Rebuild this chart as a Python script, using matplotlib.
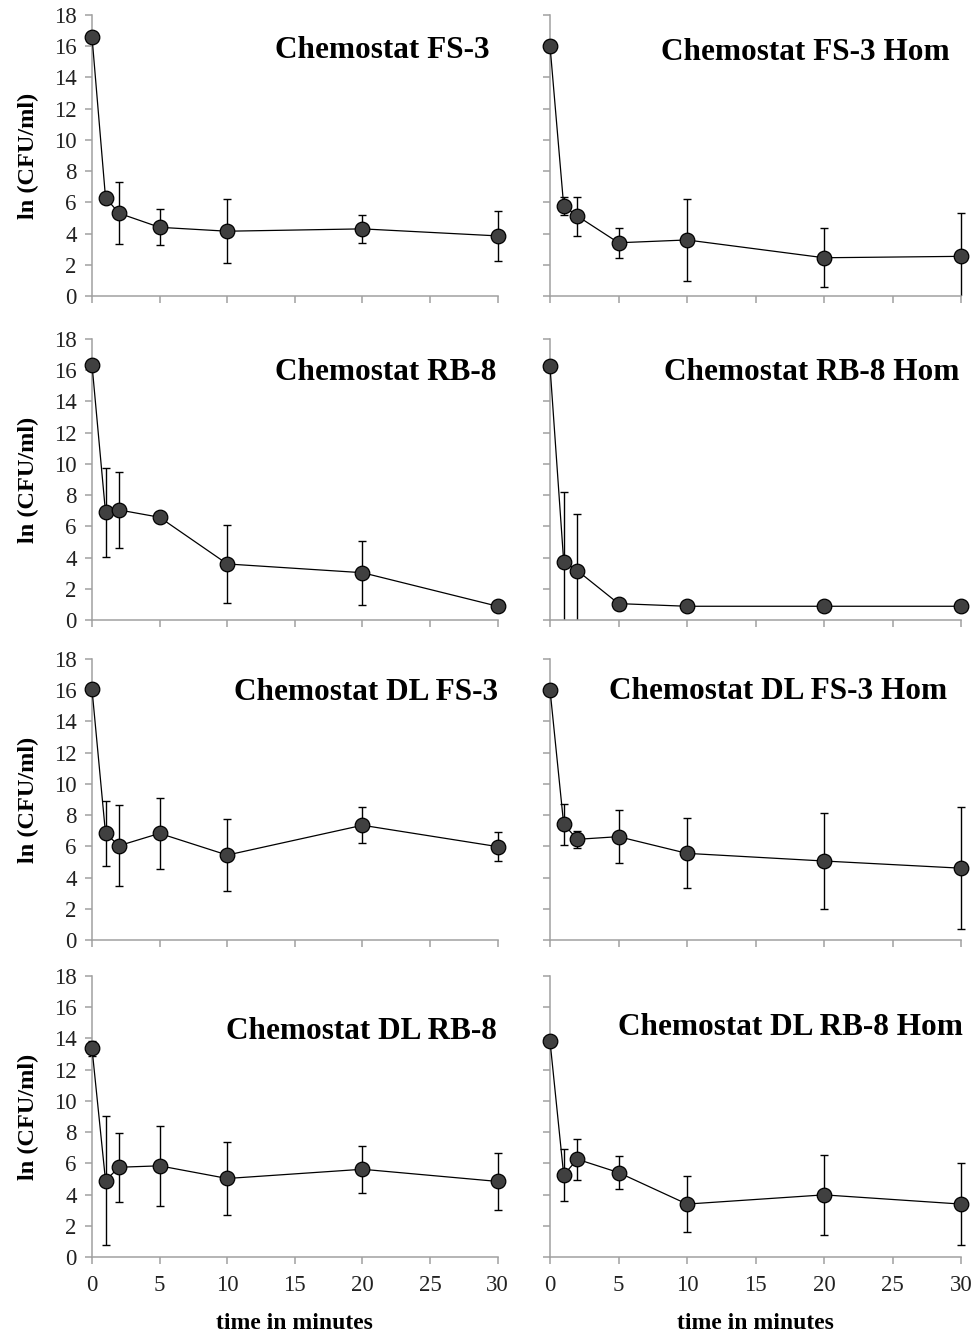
import matplotlib
matplotlib.use("Agg")
import matplotlib.pyplot as plt
from matplotlib.patches import Rectangle
from matplotlib.ticker import MultipleLocator

plt.rcParams["font.family"] = ["Liberation Serif", "DejaVu Serif"]

# sampling times (minutes)
times = [0, 1, 2, 5, 10, 20, 30]

titles = [
    "Chemostat FS-3", "Chemostat FS-3 Hom",
    "Chemostat RB-8", "Chemostat RB-8 Hom",
    "Chemostat DL FS-3", "Chemostat DL FS-3 Hom",
    "Chemostat DL RB-8", "Chemostat DL RB-8 Hom",
]

# ln(CFU/ml) means and standard deviations for each run
fs3_mean = [16.6, 6.3, 5.3, 4.4, 4.15, 4.3, 3.85]
fs3_err = [0.15, 0.15, 2.0, 1.15, 2.05, 0.9, 1.6]
fs3_hom_mean = [16.03, 5.77, 5.12, 3.41, 3.59, 2.45, 2.54]
fs3_hom_err = [0.4, 0.55, 1.25, 0.95, 2.6, 1.9, 2.8]

rb8_mean = [16.35, 6.9, 7.05, 6.58, 3.59, 3.03, 0.88]
rb8_err = [0.25, 2.85, 2.45, 0.15, 2.5, 2.05, 0.1]
rb8_hom_mean = [16.25, 3.74, 3.16, 1.05, 0.88, 0.88, 0.88]
rb8_hom_err = [0.1, 4.45, 3.6, 0.1, 0.05, 0.05, 0.05]

dlfs3_mean = [16.06, 6.83, 6.04, 6.83, 5.44, 7.35, 5.98]
dlfs3_err = [0.15, 2.1, 2.6, 2.25, 2.3, 1.15, 0.95]
dlfs3_hom_mean = [16.04, 7.41, 6.45, 6.62, 5.55, 5.06, 4.6]
dlfs3_hom_err = [0.1, 1.3, 0.55, 1.7, 2.25, 3.1, 3.9]

dlrb8_mean = [13.36, 4.9, 5.75, 5.84, 5.03, 5.62, 4.84]
dlrb8_err = [0.5, 4.15, 2.2, 2.55, 2.35, 1.5, 1.8]
dlrb8_hom_mean = [13.83, 5.26, 6.26, 5.41, 3.39, 3.98, 3.39]
dlrb8_hom_err = [0.1, 1.65, 1.3, 1.05, 1.8, 2.55, 2.65]

means = [fs3_mean, fs3_hom_mean, rb8_mean, rb8_hom_mean,
         dlfs3_mean, dlfs3_hom_mean, dlrb8_mean, dlrb8_hom_mean]
errs = [fs3_err, fs3_hom_err, rb8_err, rb8_hom_err,
        dlfs3_err, dlfs3_hom_err, dlrb8_err, dlrb8_hom_err]

W, H = 979, 1337
fig = plt.figure(figsize=(W / 100, H / 100), dpi=100)

# panel frames in pixels: column (left, right), row (top, bottom)
cols_px = [(92, 497.7), (550, 961)]
rows_px = [(15, 296), (339, 620), (659, 940), (976, 1257)]

# title anchor (axes fraction: right edge, vertical centre)
title_pos = [
    (0.981, 0.872), (0.973, 0.868),
    (0.996, 0.882), (0.995, 0.882),
    (1.000, 0.882), (0.966, 0.886),
    (0.998, 0.804), (1.005, 0.815),
]

axis_gray = "#a0a0a0"

for i in range(8):
    r, c = divmod(i, 2)
    x0, x1 = cols_px[c]
    y0, y1 = rows_px[r]
    ax = fig.add_axes([x0 / W, 1 - y1 / H, (x1 - x0) / W, (y1 - y0) / H])
    ax.set_xlim(0, 30)
    ax.set_ylim(0, 18)
    for s in ("top", "right"):
        ax.spines[s].set_visible(False)
    for s in ("left", "bottom"):
        ax.spines[s].set_color(axis_gray)
        ax.spines[s].set_linewidth(1.1)
    ax.xaxis.set_major_locator(MultipleLocator(5))
    ax.yaxis.set_major_locator(MultipleLocator(2))
    ax.tick_params(axis="both", direction="out", length=5, width=1.1,
                   color=axis_gray, labelsize=16.5, labelcolor="#222222")
    ax.tick_params(axis="x", pad=8)
    ax.tick_params(axis="y", pad=6)
    if r < 3:
        ax.tick_params(axis="x", labelbottom=False)
    else:
        ax.set_xlabel("time in minutes", fontsize=17, fontweight="bold")
        ax.xaxis.set_label_coords(0.5, -0.2)
    if c == 1:
        ax.tick_params(axis="y", labelleft=False)
    else:
        ax.set_ylabel("ln (CFU/ml)", fontsize=17.5, fontweight="bold")
        ax.yaxis.set_label_coords(-0.13, 0.5)

    # whiskers are cut at the x axis but may overhang the left/right edges
    clip_box = Rectangle((-0.05, 0.0), 1.1, 1.1, transform=ax.transAxes,
                         fill=False, visible=False)
    ax.add_patch(clip_box)
    eb = ax.errorbar(times, means[i], yerr=errs[i], fmt="none", ecolor="black",
                     elinewidth=1.0, capsize=3, capthick=1.0, zorder=2)
    for artist in list(eb.lines[1]) + list(eb.lines[2]):
        artist.set_clip_path(clip_box)
    ax.plot(times, means[i], color="black", linewidth=0.9, marker="o",
            markersize=10.5, markerfacecolor="#404040", markeredgecolor="black",
            markeredgewidth=0.9, clip_on=False, zorder=3)

    tx, ty = title_pos[i]
    ax.text(tx, ty, titles[i], transform=ax.transAxes, ha="right",
            va="center", fontsize=22.5, fontweight="bold")

fig.savefig("out.png", dpi=100)
